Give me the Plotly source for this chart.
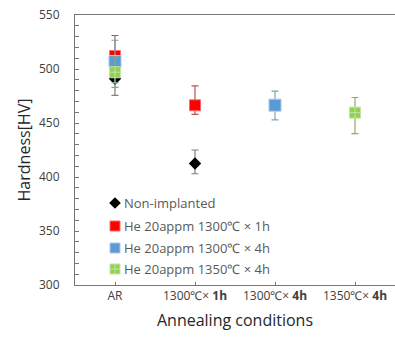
import plotly.graph_objects as go

categories = ["AR", "1300℃× <b>1h</b>", "1300℃× <b>4h</b>", "1350℃× <b>4h</b>"]

non_x = [0, 1]
non_y = [491, 412.5]
non_ep = [15.5, 12.5]
non_em = [15.5, 9.5]

red_x = [0, 1]
red_y = [512, 466.4]
red_ep = [19, 18]
red_em = [19, 8.5]

blue_x = [0, 2]
blue_y = [507, 466.5]
blue_ep = [19.6, 13]
blue_em = [19.6, 13.6]

green_x = [0, 3]
green_y = [497, 459.6]
green_ep = [14, 14]
green_em = [14, 19.4]

legend_names = ["Non-implanted", "He 20appm 1300℃ × 1h", "He 20appm 1300℃ × 4h", "He 20appm 1350℃ × 4h"]

series = [
    (non_x, non_y, non_ep, non_em, "#000000", "diamond", 9.5, "#7f7f7f", None),
    (red_x, red_y, red_ep, red_em, "#ff0000", "square", 11, "#c0504d", "#ff6b6b"),
    (blue_x, blue_y, blue_ep, blue_em, "#5b9bd5", "square", 12, "#7ea6b5", "#a9c8e8"),
    (green_x, green_y, green_ep, green_em, "#92d050", "square-cross", 11, "#8faa6a", "#c5e3a8"),
]

fig = go.Figure()
for (xs, ys, ep, em, col, sym, size, ecol, lcol) in series:
    fig.add_trace(go.Scatter(
        x=[categories[i] for i in xs], y=ys, mode="markers",
        marker=dict(color=col, symbol=sym, size=size,
                    line=dict(color=lcol if lcol else col, width=1 if lcol else 0)),
        error_y=dict(type="data", symmetric=False, array=ep, arrayminus=em,
                     color=ecol, thickness=1.2, width=3.5),
        showlegend=False, xaxis="x", yaxis="y"))

# custom legend (markers on an overlay axis in plot-fraction units + text annotations)
leg_x = 0.125
leg_y = [0.3037, 0.2185, 0.137, 0.0593]
for k, (xs, ys, ep, em, col, sym, size, ecol, lcol) in enumerate(series):
    fig.add_trace(go.Scatter(
        x=[leg_x], y=[leg_y[k]], mode="markers",
        marker=dict(color=col, symbol=sym, size=9 if sym == "diamond" else 10,
                    line=dict(color=lcol if lcol else col, width=1 if lcol else 0)),
        showlegend=False, xaxis="x2", yaxis="y2", hoverinfo="skip"))
    fig.add_annotation(x=leg_x + 0.022, y=leg_y[k], xref="x2", yref="y2",
                       text=legend_names[k], showarrow=False, xanchor="left",
                       yanchor="middle", font=dict(size=13, color="#595959"))

axis_col = "#767676"
fig.update_layout(
    width=395, height=340,
    margin=dict(l=75, r=0, t=15, b=55),
    paper_bgcolor="white", plot_bgcolor="white",
    font=dict(family="Open Sans, sans-serif", color="#404040"),
    showlegend=False,
    xaxis=dict(type="category", categoryorder="array", categoryarray=categories,
               range=[-0.5, 3.5], showline=True, linecolor=axis_col, linewidth=1,
               mirror=True, ticks="inside", ticklen=3, tickcolor=axis_col,
               showgrid=False, zeroline=False, automargin=False,
               tickfont=dict(size=12, color="#404040"),
               title=dict(text="Annealing conditions", font=dict(size=16, color="#262626"), standoff=11)),
    yaxis=dict(range=[300, 550], tickvals=[300, 350, 400, 450, 500, 550],
               showline=True, linecolor=axis_col, linewidth=1,
               ticks="inside", ticklen=4, tickcolor=axis_col,
               minor=dict(ticks="inside", dtick=10, ticklen=4, tickcolor=axis_col),
               showgrid=False, zeroline=False, ticklabelstandoff=12, automargin=False,
               ticklabeloverflow="allow",
               tickfont=dict(size=12, color="#404040"),
               title=dict(text="Hardness[HV]", font=dict(size=16, color="#262626"), standoff=4)),
    xaxis2=dict(overlaying="x", range=[0, 1], visible=False, anchor="y2"),
    yaxis2=dict(overlaying="y", range=[0, 1], visible=False, anchor="x2"),
)

fig.write_html("out.html", config={"displayModeBar": False},
               post_script="document.body.style.margin='0px';")
